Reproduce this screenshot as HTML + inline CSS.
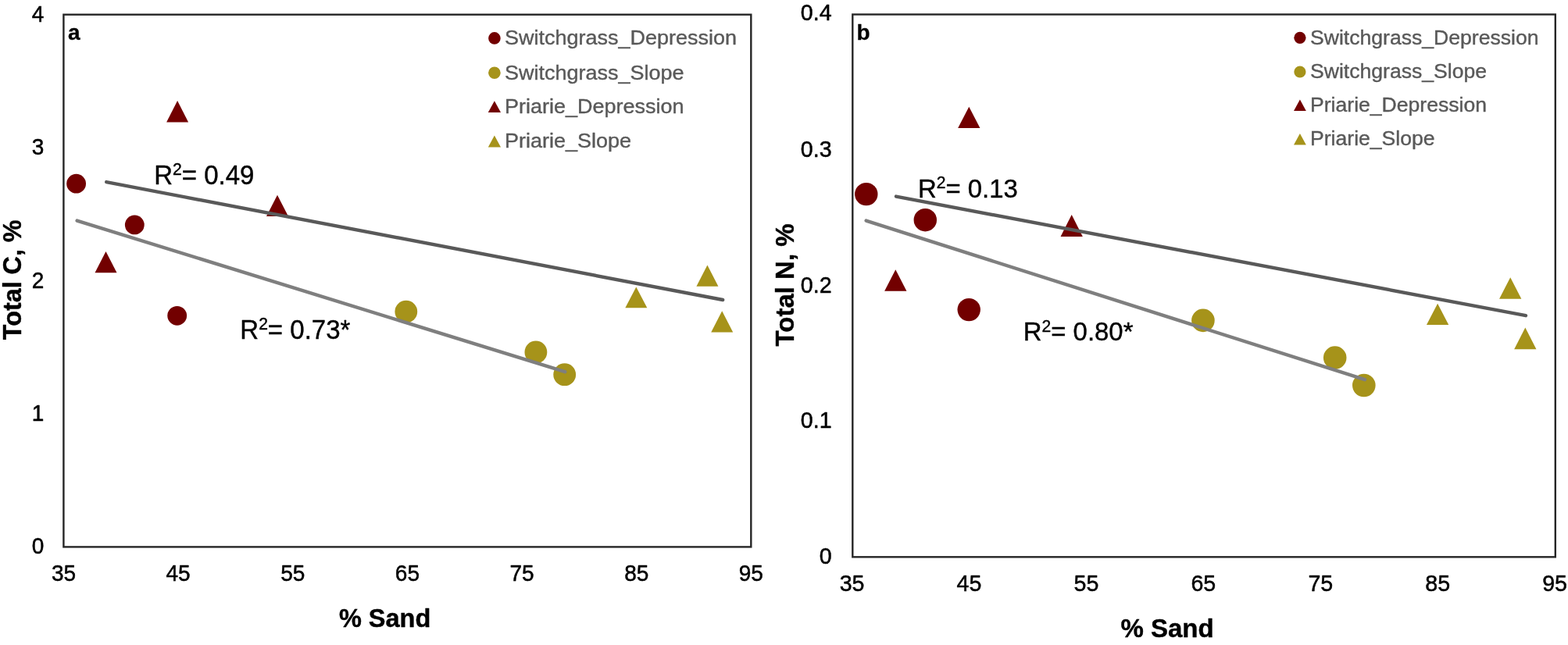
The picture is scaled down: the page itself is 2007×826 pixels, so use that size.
<!DOCTYPE html>
<html lang="en">
<head>
<meta charset="utf-8">
<title>Total C and Total N vs % Sand</title>
<style>
html,body{margin:0;padding:0;background:#fff;}
body{width:2007px;height:826px;overflow:hidden;}
svg{display:block;font-family:"Liberation Sans", sans-serif;filter:blur(0.45px);}
</style>
</head>
<body>
<svg width="2007" height="826" viewBox="0 0 2007 826">
<rect width="2007" height="826" fill="#ffffff"/>
<g id="chart-a">
<rect x="81.4" y="18.7" width="879.90" height="681.70" fill="none" stroke="#262626" stroke-width="2.4"/>
<text transform="translate(56.2 27.6) scale(1 1.05)" font-size="28" text-anchor="end" font-weight="normal" fill="#000" stroke="#000" stroke-width="0.5" stroke-linejoin="round" >4</text>
<text transform="translate(56.2 198.0) scale(1 1.05)" font-size="28" text-anchor="end" font-weight="normal" fill="#000" stroke="#000" stroke-width="0.5" stroke-linejoin="round" >3</text>
<text transform="translate(56.2 368.5) scale(1 1.05)" font-size="28" text-anchor="end" font-weight="normal" fill="#000" stroke="#000" stroke-width="0.5" stroke-linejoin="round" >2</text>
<text transform="translate(56.2 538.9) scale(1 1.05)" font-size="28" text-anchor="end" font-weight="normal" fill="#000" stroke="#000" stroke-width="0.5" stroke-linejoin="round" >1</text>
<text transform="translate(56.2 709.0) scale(1 1.05)" font-size="28" text-anchor="end" font-weight="normal" fill="#000" stroke="#000" stroke-width="0.5" stroke-linejoin="round" >0</text>
<text transform="translate(81.5 743.9) scale(1 1.05)" font-size="28" text-anchor="middle" font-weight="normal" fill="#000" stroke="#000" stroke-width="0.5" stroke-linejoin="round" >35</text>
<text transform="translate(228.1 743.9) scale(1 1.05)" font-size="28" text-anchor="middle" font-weight="normal" fill="#000" stroke="#000" stroke-width="0.5" stroke-linejoin="round" >45</text>
<text transform="translate(374.8 743.9) scale(1 1.05)" font-size="28" text-anchor="middle" font-weight="normal" fill="#000" stroke="#000" stroke-width="0.5" stroke-linejoin="round" >55</text>
<text transform="translate(521.4 743.9) scale(1 1.05)" font-size="28" text-anchor="middle" font-weight="normal" fill="#000" stroke="#000" stroke-width="0.5" stroke-linejoin="round" >65</text>
<text transform="translate(668.0 743.9) scale(1 1.05)" font-size="28" text-anchor="middle" font-weight="normal" fill="#000" stroke="#000" stroke-width="0.5" stroke-linejoin="round" >75</text>
<text transform="translate(814.7 743.9) scale(1 1.05)" font-size="28" text-anchor="middle" font-weight="normal" fill="#000" stroke="#000" stroke-width="0.5" stroke-linejoin="round" >85</text>
<text transform="translate(961.3 743.9) scale(1 1.05)" font-size="28" text-anchor="middle" font-weight="normal" fill="#000" stroke="#000" stroke-width="0.5" stroke-linejoin="round" >95</text>
<text transform="translate(87.0 51.0)" font-size="28" text-anchor="start" font-weight="bold" fill="#000" stroke="#000" stroke-width="0.3" stroke-linejoin="round" >a</text>
<text transform="translate(27.0 358.3) rotate(-90) scale(1 1.05)" font-size="32.3" text-anchor="middle" font-weight="bold" fill="#000" stroke="#000" stroke-width="0.4" stroke-linejoin="round" >Total C, %</text>
<text transform="translate(492.6 802.7) scale(1 1.05)" font-size="32.5" text-anchor="middle" font-weight="bold" fill="#000" stroke="#000" stroke-width="0.4" stroke-linejoin="round" >% Sand</text>
<circle cx="97.6" cy="235.2" r="12.4" fill="#720000"/>
<circle cx="172.3" cy="287.9" r="12.4" fill="#720000"/>
<circle cx="226.7" cy="404.3" r="12.4" fill="#720000"/>
<circle cx="519.8" cy="399.1" r="14.4" fill="#A6931A"/>
<circle cx="685.9" cy="451.0" r="14.4" fill="#A6931A"/>
<circle cx="722.7" cy="479.7" r="14.4" fill="#A6931A"/>
<polygon points="227.1,128.9 241.10,156.4 213.10,156.4" fill="#720000"/>
<polygon points="355.0,249.8 369.00,277.0 341.00,277.0" fill="#720000"/>
<polygon points="135.5,322.1 149.50,349.2 121.50,349.2" fill="#720000"/>
<polygon points="814.3,367.5 828.30,394.3 800.30,394.3" fill="#A6931A"/>
<polygon points="905.4,339.5 919.40,366.8 891.40,366.8" fill="#A6931A"/>
<polygon points="924.2,398.3 938.20,425.5 910.20,425.5" fill="#A6931A"/>
<line x1="136.2" y1="233.1" x2="925.2" y2="384.0" stroke="#595959" stroke-width="4.4" stroke-linecap="round"/>
<line x1="98.6" y1="282.6" x2="723.3" y2="476.2" stroke="#7f7f7f" stroke-width="4.4" stroke-linecap="round"/>
<text transform="translate(197.2 236.3) scale(1.0 1.05)" font-size="33" fill="#000" stroke="#000" stroke-width="0.4" stroke-linejoin="round">R<tspan font-size="21.1" dy="-11.4">2</tspan><tspan dy="11.4">= 0.49</tspan></text>
<text transform="translate(307.3 433.9) scale(1.0 1.05)" font-size="33" fill="#000" stroke="#000" stroke-width="0.4" stroke-linejoin="round">R<tspan font-size="21.1" dy="-11.4">2</tspan><tspan dy="11.4">= 0.73*</tspan></text>
<circle cx="632.9" cy="48.9" r="7.8" fill="#720000"/>
<text transform="translate(646.0 57.4) scale(1 0.97)" font-size="27.0" text-anchor="start" font-weight="normal" fill="#595959" stroke="#595959" stroke-width="0.4" stroke-linejoin="round" >Switchgrass_Depression</text>
<circle cx="632.9" cy="93.2" r="7.8" fill="#A6931A"/>
<text transform="translate(646.0 101.8) scale(1 0.97)" font-size="27.0" text-anchor="start" font-weight="normal" fill="#595959" stroke="#595959" stroke-width="0.4" stroke-linejoin="round" >Switchgrass_Slope</text>
<polygon points="632.9,129.3 641.00,144.1 624.80,144.1" fill="#720000"/>
<text transform="translate(646.0 145.0) scale(1 0.97)" font-size="27.0" text-anchor="start" font-weight="normal" fill="#595959" stroke="#595959" stroke-width="0.4" stroke-linejoin="round" >Priarie_Depression</text>
<polygon points="632.9,173.6 641.00,188.4 624.80,188.4" fill="#A6931A"/>
<text transform="translate(646.0 189.0) scale(1 0.97)" font-size="27.0" text-anchor="start" font-weight="normal" fill="#595959" stroke="#595959" stroke-width="0.4" stroke-linejoin="round" >Priarie_Slope</text>
</g>
<g id="chart-b">
<rect x="1091.3" y="18.5" width="899.50" height="694.80" fill="none" stroke="#262626" stroke-width="2.4"/>
<text transform="translate(1064.6 25.8) scale(1 1.05)" font-size="28.6" text-anchor="end" font-weight="normal" fill="#000" stroke="#000" stroke-width="0.5" stroke-linejoin="round" >0.4</text>
<text transform="translate(1064.6 200.9) scale(1 1.05)" font-size="28.6" text-anchor="end" font-weight="normal" fill="#000" stroke="#000" stroke-width="0.5" stroke-linejoin="round" >0.3</text>
<text transform="translate(1064.6 374.7) scale(1 1.05)" font-size="28.6" text-anchor="end" font-weight="normal" fill="#000" stroke="#000" stroke-width="0.5" stroke-linejoin="round" >0.2</text>
<text transform="translate(1064.6 548.4) scale(1 1.05)" font-size="28.6" text-anchor="end" font-weight="normal" fill="#000" stroke="#000" stroke-width="0.5" stroke-linejoin="round" >0.1</text>
<text transform="translate(1064.6 721.8) scale(1 1.05)" font-size="28.6" text-anchor="end" font-weight="normal" fill="#000" stroke="#000" stroke-width="0.5" stroke-linejoin="round" >0</text>
<text transform="translate(1090.6 757.0) scale(1 1.05)" font-size="28.6" text-anchor="middle" font-weight="normal" fill="#000" stroke="#000" stroke-width="0.5" stroke-linejoin="round" >35</text>
<text transform="translate(1240.5 757.0) scale(1 1.05)" font-size="28.6" text-anchor="middle" font-weight="normal" fill="#000" stroke="#000" stroke-width="0.5" stroke-linejoin="round" >45</text>
<text transform="translate(1390.4 757.0) scale(1 1.05)" font-size="28.6" text-anchor="middle" font-weight="normal" fill="#000" stroke="#000" stroke-width="0.5" stroke-linejoin="round" >55</text>
<text transform="translate(1540.3 757.0) scale(1 1.05)" font-size="28.6" text-anchor="middle" font-weight="normal" fill="#000" stroke="#000" stroke-width="0.5" stroke-linejoin="round" >65</text>
<text transform="translate(1690.3 757.0) scale(1 1.05)" font-size="28.6" text-anchor="middle" font-weight="normal" fill="#000" stroke="#000" stroke-width="0.5" stroke-linejoin="round" >75</text>
<text transform="translate(1840.2 757.0) scale(1 1.05)" font-size="28.6" text-anchor="middle" font-weight="normal" fill="#000" stroke="#000" stroke-width="0.5" stroke-linejoin="round" >85</text>
<text transform="translate(1990.1 757.0) scale(1 1.05)" font-size="28.6" text-anchor="middle" font-weight="normal" fill="#000" stroke="#000" stroke-width="0.5" stroke-linejoin="round" >95</text>
<text transform="translate(1096.5 51.3)" font-size="28" text-anchor="start" font-weight="bold" fill="#000" stroke="#000" stroke-width="0.3" stroke-linejoin="round" >b</text>
<text transform="translate(1016.2 364.9) rotate(-90) scale(1 1.03)" font-size="33.0" text-anchor="middle" font-weight="bold" fill="#000" stroke="#000" stroke-width="0.4" stroke-linejoin="round" >Total N, %</text>
<text transform="translate(1494.0 816.0)" font-size="33.0" text-anchor="middle" font-weight="bold" fill="#000" stroke="#000" stroke-width="0.4" stroke-linejoin="round" >% Sand</text>
<circle cx="1108.8" cy="248.6" r="14.7" fill="#720000"/>
<circle cx="1184.3" cy="281.7" r="14.7" fill="#720000"/>
<circle cx="1240.2" cy="396.6" r="14.7" fill="#720000"/>
<circle cx="1539.9" cy="410.4" r="14.8" fill="#A6931A"/>
<circle cx="1708.7" cy="458.1" r="14.8" fill="#A6931A"/>
<circle cx="1745.8" cy="493.5" r="14.8" fill="#A6931A"/>
<polygon points="1240.3,136.8 1254.45,164.0 1226.15,164.0" fill="#720000"/>
<polygon points="1371.7,275.1 1385.85,303.1 1357.55,303.1" fill="#720000"/>
<polygon points="1146.3,345.3 1160.45,372.7 1132.15,372.7" fill="#720000"/>
<polygon points="1840.1,388.7 1854.25,416.0 1825.95,416.0" fill="#A6931A"/>
<polygon points="1933.2,355.3 1947.35,382.7 1919.05,382.7" fill="#A6931A"/>
<polygon points="1952.3,419.5 1966.45,447.2 1938.15,447.2" fill="#A6931A"/>
<line x1="1147.0" y1="251.6" x2="1953.0" y2="404.2" stroke="#595959" stroke-width="4.4" stroke-linecap="round"/>
<line x1="1108.6" y1="282.6" x2="1747.0" y2="486.2" stroke="#7f7f7f" stroke-width="4.4" stroke-linecap="round"/>
<text transform="translate(1175.0 252.9) scale(0.985 1.0)" font-size="33.4" fill="#000" stroke="#000" stroke-width="0.4" stroke-linejoin="round">R<tspan font-size="21.4" dy="-11.5">2</tspan><tspan dy="11.5">= 0.13</tspan></text>
<text transform="translate(1309.8 436.1) scale(0.985 1.0)" font-size="33.4" fill="#000" stroke="#000" stroke-width="0.4" stroke-linejoin="round">R<tspan font-size="21.4" dy="-11.5">2</tspan><tspan dy="11.5">= 0.80*</tspan></text>
<circle cx="1663.9" cy="48.3" r="7.6" fill="#720000"/>
<text transform="translate(1677.0 56.5) scale(1 0.97)" font-size="26.6" text-anchor="start" font-weight="normal" fill="#595959" stroke="#595959" stroke-width="0.4" stroke-linejoin="round" >Switchgrass_Depression</text>
<circle cx="1663.9" cy="92.0" r="7.6" fill="#A6931A"/>
<text transform="translate(1677.0 100.0) scale(1 0.97)" font-size="26.6" text-anchor="start" font-weight="normal" fill="#595959" stroke="#595959" stroke-width="0.4" stroke-linejoin="round" >Switchgrass_Slope</text>
<polygon points="1663.9,127.6 1671.80,142.0 1656.00,142.0" fill="#720000"/>
<text transform="translate(1677.0 143.0) scale(1 0.97)" font-size="26.6" text-anchor="start" font-weight="normal" fill="#595959" stroke="#595959" stroke-width="0.4" stroke-linejoin="round" >Priarie_Depression</text>
<polygon points="1663.9,171.0 1671.80,185.4 1656.00,185.4" fill="#A6931A"/>
<text transform="translate(1677.0 186.3) scale(1 0.97)" font-size="26.6" text-anchor="start" font-weight="normal" fill="#595959" stroke="#595959" stroke-width="0.4" stroke-linejoin="round" >Priarie_Slope</text>
</g>
</svg>
</body>
</html>
